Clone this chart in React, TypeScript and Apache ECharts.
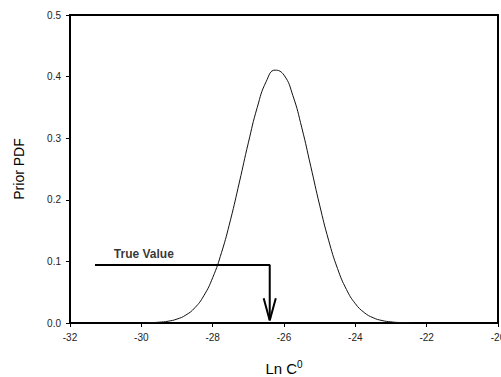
import React, { useEffect, useRef } from "react";
import * as echarts from "echarts";

// Prior PDF curve: [Ln C0, PDF]
const curveX = [
  -29.85, -29.75, -29.5, -29.25, -29.0, -28.75, -28.5, -28.25, -28.0, -27.75,
  -27.5, -27.25, -27.0, -26.75, -26.5, -26.25, -26.0, -25.75, -25.5, -25.25,
  -25.0, -24.75, -24.5, -24.25, -24.0, -23.75, -23.5, -23.25, -23.0, -22.75,
  -22.4,
];
const curveY = [
  0.0, 0.0005, 0.0013, 0.0029, 0.0064, 0.013, 0.0247, 0.0441, 0.0735, 0.1147,
  0.1674, 0.2288, 0.2925, 0.35, 0.3918, 0.4105, 0.4024, 0.369, 0.3168, 0.2544,
  0.1912, 0.1345, 0.0885, 0.0545, 0.0314, 0.0169, 0.0085, 0.004, 0.0018, 0.0007,
  0.0,
];

// "True Value" pointer
const pointerX = [-31.3, -26.4, -26.4];
const pointerY = [0.094, 0.094, 0.005];
const arrowHeadX = [-26.57, -26.4, -26.23];
const arrowHeadY = [0.04, 0.004, 0.04];
const labelPos = [-29.93, 0.112];
const labelText = "True Value";

const xTicks = { min: -32, max: -20, interval: 2 };
const yTicks = { min: 0, max: 0.5, interval: 0.1 };

const FONT = "Liberation Sans, Arial, sans-serif";

export default function App() {
  const ref = useRef<HTMLDivElement>(null);
  useEffect(() => {
    if (!ref.current) return;
    const chart = echarts.init(ref.current, undefined, { renderer: "svg" });
    const curve = curveX.map((x, i) => [x, curveY[i]]);
    const pointer = pointerX.map((x, i) => [x, pointerY[i]]);
    const head = arrowHeadX.map((x, i) => [x, arrowHeadY[i]]);
    chart.setOption({
      animation: false,
      backgroundColor: "#ffffff",
      grid: {
        left: 70,
        top: 15,
        right: 3,
        bottom: 54,
        outerBoundsMode: "none",
        containLabel: false,
        show: true,
        borderColor: "#000",
        borderWidth: 2,
        backgroundColor: "transparent",
      },
      xAxis: {
        type: "value",
        min: xTicks.min,
        max: xTicks.max,
        interval: xTicks.interval,
        name: "{a|Ln C}{s|0}",
        nameLocation: "middle",
        nameGap: 36,
        nameTextStyle: {
          rich: {
            a: { fontFamily: FONT, fontSize: 15, color: "#000" },
            s: { fontFamily: FONT, fontSize: 10, color: "#000", verticalAlign: "top", padding: [0, 0, 8, 0] },
          },
        },
        axisLine: { show: true, lineStyle: { color: "#000", width: 2 } },
        axisTick: { show: true, inside: false, length: 4, lineStyle: { color: "#000", width: 1 } },
        axisLabel: { fontFamily: FONT, fontSize: 10, color: "#222", margin: 9 },
        splitLine: { show: false },
      },
      yAxis: {
        type: "value",
        min: yTicks.min,
        max: yTicks.max,
        interval: yTicks.interval,
        name: "Prior PDF",
        nameLocation: "middle",
        nameGap: 44,
        nameTextStyle: { fontFamily: FONT, fontSize: 14, color: "#000" },
        axisLine: { show: true, lineStyle: { color: "#000", width: 2 } },
        axisTick: { show: true, inside: false, length: 4, lineStyle: { color: "#000", width: 1 } },
        axisLabel: {
          fontFamily: FONT,
          fontSize: 10,
          color: "#222",
          margin: 9,
          formatter: (v: number) => v.toFixed(1),
        },
        splitLine: { show: false },
      },
      series: [
        {
          type: "line",
          data: curve,
          smooth: true,
          showSymbol: false,
          lineStyle: { color: "#111", width: 1 },
        },
        {
          type: "line",
          data: pointer,
          showSymbol: false,
          lineStyle: { color: "#000", width: 2 },
        },
        {
          type: "line",
          data: head,
          showSymbol: false,
          lineStyle: { color: "#000", width: 2 },
        },
        {
          type: "scatter",
          data: [labelPos],
          symbolSize: 0,
          label: {
            show: true,
            position: "inside",
            formatter: labelText,
            fontFamily: FONT,
            fontSize: 12,
            fontWeight: "bold",
            color: "#000",
          },
        },
      ],
    });
    return () => chart.dispose();
  }, []);
  return (
    <div
      ref={ref}
      style={{ position: "fixed", left: 0, top: 0, width: 501, height: 377, background: "#fff" }}
    />
  );
}
